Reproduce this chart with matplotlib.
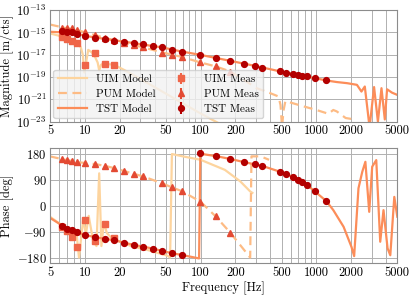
import numpy as np
import matplotlib
matplotlib.use("Agg")
import matplotlib.pyplot as plt
from matplotlib.ticker import FixedLocator, NullFormatter, LogLocator, FuncFormatter

plt.rcParams['font.family'] = 'serif'
plt.rcParams['font.serif'] = ['cmr10', 'DejaVu Serif']
plt.rcParams['mathtext.fontset'] = 'cm'
plt.rcParams['axes.unicode_minus'] = False
plt.rcParams['axes.formatter.use_mathtext'] = True

# magnitudes are stored as log10 values

# --- models ---
uim_f = [5, 6.4, 7, 7.7, 8.5, 9.2, 9.6, 9.9, 10.7, 11.5, 12.2, 12.9, 13.3, 13.8,
         14.8, 16, 18, 24.6, 40, 62, 99, 130, 160]
uim_mag = [-15.1, -15.38, -15.6, -15.8, -15.98, -16.3, -17.0, -18.6, -16.57, -16.8,
           -17.17, -17.7, -18.4, -17.9, -17.76, -17.85, -17.91, -18.65, -19.9,
           -21.04, -22.24, -22.9, -23.4]
uim_pf = [5, 6.4, 7, 7.7, 8.5, 8.9, 9.7, 10.2, 10.8, 11.8, 12.6, 13.3, 13.9, 14.6,
          15.5, 17.0, 18.2, 25, 35, 52, 54.5, 56.5, 70, 100, 162, 220, 268, 280]
uim_ph = [-38, -69, -78, -84, -100, -180, -43, -100, -35, -123, -140, 113, -140,
          -58, -95, -112, -117, -140, -154, -174, -180, 180, 172, 160, 125, 85,
          50, 45]

pum_f = [5, 6.4, 8.5, 10.1, 14.9, 21.8, 32, 46.7, 68.8, 100, 135, 180, 240, 305,
         398, 470, 490, 505, 520, 540, 776, 1000, 1270, 1400, 1500, 1790, 2000, 2250]
pum_mag = [-14.3, -14.55, -14.8, -15.0, -15.5, -15.95, -16.35, -16.8, -17.2, -17.7,
           -18.05, -18.5, -19.3, -20.0, -20.44, -20.74, -21.5, -23.5, -22.0,
           -21.15, -21.63, -21.95, -22.29, -21.95, -22.08, -22.67, -22.75, -23.3]
pum_pf = [5, 6.4, 7, 7.7, 8.5, 10.1, 12.3, 14.9, 18, 21.8, 26.4, 32, 46.7, 56.6,
          68.8, 100, 135, 180, 268, 275, 330, 390]
pum_ph = [172, 162, 159, 156, 152, 149, 145, 139, 131, 121, 111.5, 102, 78, 64,
          51, 14, -37, -93, -180, 172, 172, 160]

tst_f = [5, 6.4, 8.5, 10.1, 14.9, 21.8, 32, 46.7, 68.8, 100, 180, 294, 489, 700,
         970, 1222, 1500, 1840, 2240, 2450, 2620, 2880, 3150, 3400, 3650, 3900,
         4080, 4500, 5000]
tst_mag = [-14.95, -15.0, -15.12, -15.32, -15.59, -15.83, -16.1, -16.35, -16.72,
           -17.02, -17.55, -18.0, -18.5, -18.83, -19.1, -19.31, -19.45, -19.55,
           -19.7, -20.3, -19.85, -23.5, -19.9, -23.0, -20.0, -22.8, -20.1, -20.4,
           -20.6]
tst_pf = [5, 6.4, 7, 7.7, 8.5, 10.1, 12.3, 14.9, 18, 21.8, 26.4, 32, 38.8, 46.7,
          56.6, 68.8, 97, 99.5, 135, 180, 238, 294, 340, 489, 548, 630, 700, 749,
          827, 970, 1222, 1400, 1718, 2010, 2120, 2310, 2490, 2650, 2860, 3035,
          3290, 3560, 3800, 4120, 4350, 4710, 5000]
tst_ph = [-42, -69, -79, -85, -91, -102, -109, -115, -120, -128, -136, -142, -149,
          -157, -165, -171, -183, 181, 173, 163, 152, 144, 139, 118, 111.5, 99,
          89.5, 84, 73, 50, 16, -15, -73, -143, -175, 61, 118, 153, -21, 136, 159,
          -125, -15, -148, -172, 31, -38]

# --- measurements ---
uim_mf = [6.4, 7, 7.7, 8.5, 10.1, 12.3, 14.9, 18]
uim_mmag = [-15.38, -15.62, -15.8, -15.98, -17.9, -16.87, -17.82, -17.91]
uim_mph = [-72, -89, -109, -145, -49, -123, -64, -111]

pum_mf = [6.4, 7, 7.7, 8.5, 10.1, 12.3, 14.9, 18, 21.8, 26.4, 32, 46.7, 56.6, 68.8,
          99, 135, 180]
pum_mmag = [-14.58, -14.6, -14.65, -14.79, -15.0, -15.28, -15.5, -15.72, -15.92,
            -16.1, -16.3, -16.81, -17.02, -17.2, -17.7, -18.0, -18.56]
pum_mph = [162, 159, 156, 152, 149, 145, 139, 131, 121, 111.5, 102, 78, 64, 51, 14,
           -37, -93]

tst_mf = [6.4, 7, 7.7, 8.5, 10.1, 12.3, 14.9, 18, 21.8, 26.4, 32, 38.8, 46.7, 56.6,
          68.8, 99, 135, 180, 238, 294, 340, 489, 548, 630, 700, 749, 827, 970, 1222]
tst_mmag = [-14.85, -14.93, -15.0, -15.14, -15.32, -15.47, -15.59, -15.74, -15.83,
            -15.97, -16.08, -16.2, -16.35, -16.57, -16.72, -17.02, -17.32, -17.55,
            -17.82, -18.0, -18.15, -18.5, -18.6, -18.71, -18.83, -18.89, -18.95,
            -19.1, -19.31]
tst_mph = [-69, -79, -85, -91, -102, -109, -115, -120, -128, -136, -142, -149, -157,
           -165, -171, 182, 173, 163, 152, 144, 139, 118, 111.5, 99, 89.5, 84, 73,
           50, 16]

c_uim, c_pum, c_tst = '#fdd49e', '#fdbb84', '#fc8d59'
m_uim, m_pum, m_tst = '#ef6548', '#e34a33', '#b30000'

fig = plt.figure(figsize=(4.15, 3.01), dpi=100)
ax1 = fig.add_axes([50/415, 1-121.7/301, 347.3/415, 111.7/301])
ax2 = fig.add_axes([50/415, 1-263.3/301, 347.3/415, 115/301])

def mag(v):
    return 10.0**np.array(v)

ms = 4.2
ax1.loglog(uim_f, mag(uim_mag), color=c_uim, lw=1.6, label='UIM Model')
ax1.loglog(pum_f, mag(pum_mag), color=c_pum, lw=1.6, ls=(0, (4, 2.5)), label='PUM Model')
ax1.loglog(tst_f, mag(tst_mag), color=c_tst, lw=1.6, label='TST Model')
ax1.errorbar(uim_mf, mag(uim_mmag), yerr=0.05*mag(uim_mmag), fmt='s', ms=ms,
             color=m_uim, label='UIM Meas', zorder=4)
ax1.errorbar(pum_mf, mag(pum_mmag), yerr=0.05*mag(pum_mmag), fmt='^', ms=ms,
             color=m_pum, label='PUM Meas', zorder=4)
ax1.errorbar(tst_mf, mag(tst_mmag), yerr=0.05*mag(tst_mmag), fmt='o', ms=ms,
             color=m_tst, label='TST Meas', zorder=5)

ax2.semilogx(uim_pf, uim_ph, color=c_uim, lw=1.6)
ax2.semilogx(pum_pf, pum_ph, color=c_pum, lw=1.6, ls=(0, (4, 2.5)))
ax2.semilogx(tst_pf, tst_ph, color=c_tst, lw=1.6)
ax2.errorbar(uim_mf, uim_mph, yerr=1, fmt='s', ms=ms, color=m_uim, zorder=4)
ax2.errorbar(pum_mf, pum_mph, yerr=1, fmt='^', ms=ms, color=m_pum, zorder=4)
ax2.errorbar(tst_mf, tst_mph, yerr=1, fmt='o', ms=ms, color=m_tst, zorder=5)

xt = [5, 10, 20, 50, 100, 200, 500, 1000, 2000, 5000]
for ax in (ax1, ax2):
    ax.set_xlim(5, 5000)
    ax.xaxis.set_major_locator(FixedLocator(xt))
    ax.xaxis.set_major_formatter(FuncFormatter(lambda v, p: '%d' % v))
    ax.xaxis.set_minor_locator(LogLocator(base=10, subs=np.arange(2, 10), numticks=20))
    ax.xaxis.set_minor_formatter(NullFormatter())
    ax.grid(True, which='major', color='#b0b0b0', lw=0.7)
    ax.grid(True, which='minor', axis='x', color='#b0b0b0', lw=0.7)
    ax.set_axisbelow(True)
    ax.tick_params(which='both', length=0, labelsize=9, pad=2.5)
    for s in ax.spines.values():
        s.set_color('#8c8c8c')
        s.set_linewidth(0.8)

ax1.set_ylim(1e-23, 1e-13)
ax1.yaxis.set_major_locator(FixedLocator([1e-23, 1e-21, 1e-19, 1e-17, 1e-15, 1e-13]))
ax1.yaxis.set_minor_locator(FixedLocator([]))
ax1.set_ylabel('Magnitude [m/cts]', fontsize=9, labelpad=1.5)

ax2.set_ylim(-200, 200)
ax2.set_yticks([-180, -90, 0, 90, 180])
ax2.set_ylabel('Phase [deg]', fontsize=9, labelpad=1.5)
ax2.set_xlabel('Frequency [Hz]', fontsize=9, labelpad=2)

leg = ax1.legend(loc='lower left', ncol=2, fontsize=8, handlelength=2.6,
                 columnspacing=1.0, handletextpad=0.8, borderaxespad=0.3,
                 labelspacing=0.45, fancybox=True, framealpha=0.8)
leg.get_frame().set_facecolor('#f2f2f2')
leg.get_frame().set_edgecolor('#cccccc')

fig.savefig('out.png', dpi=100)
